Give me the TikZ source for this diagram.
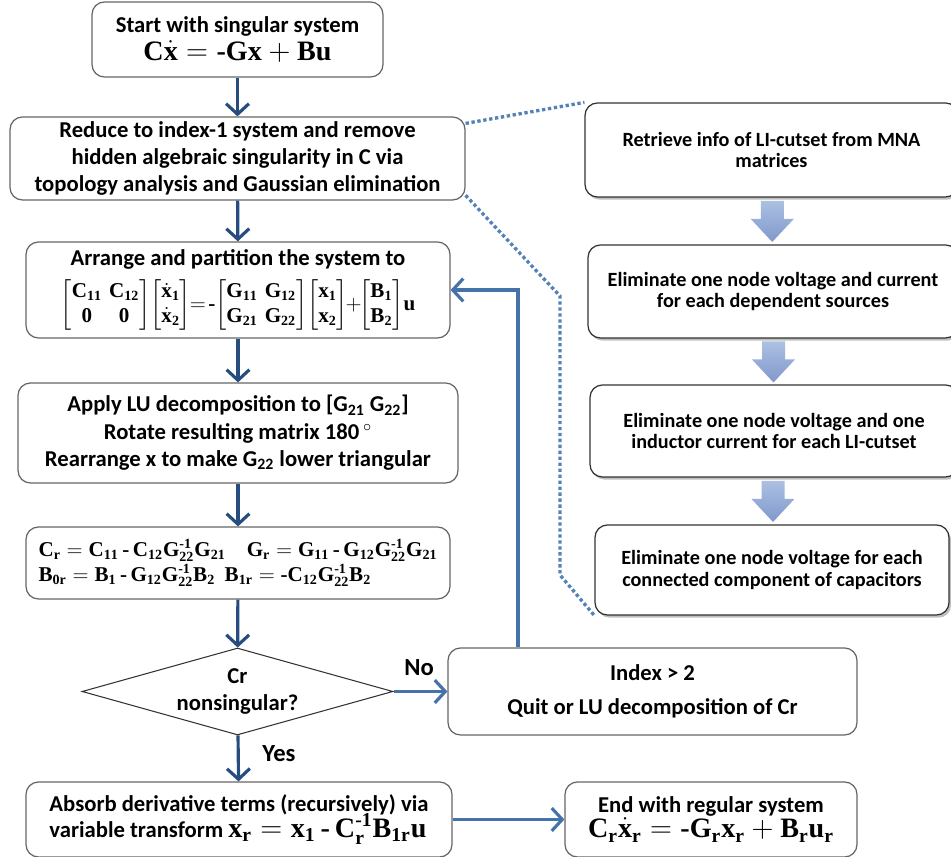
\documentclass[tikz,border=0pt]{standalone}
\usepackage{amsmath}
\usepackage{fontspec}
\setmainfont{Carlito}
\setmathrm{Liberation Serif}
\newfontfamily\tnr{Liberation Serif}
\usetikzlibrary{arrows.meta,shapes.geometric,shadows,calc}

\definecolor{navy}{RGB}{38,76,128}
\definecolor{steel}{RGB}{70,114,170}
\definecolor{dotblue}{RGB}{84,130,182}
\definecolor{blocktop}{RGB}{172,192,226}
\definecolor{blockbot}{RGB}{128,152,204}

% bold serif symbols for the formulas
\newcommand\mi{\text{\tnr\bfseries -}}
\newcommand\mn{\,\mi\,}
\newcommand\ms[2]{\mathbf{#1}_{\mathbf{#2}}}
\newcommand\inv{^{\mi\mathbf{1}}}

\begin{document}
\begin{tikzpicture}[
        x=0.02cm, y=-0.02cm,
        box/.style={draw=black!60, line width=0.7pt, rounded corners=7pt,
            fill=white, align=center, inner sep=2pt,
            font=\bfseries\fontsize{12.9}{15.6}\selectfont},
        side/.style={box, draw=black!80,
            font=\bfseries\fontsize{11.5}{12.5}\selectfont,
            drop shadow={shadow xshift=1.2pt, shadow yshift=-1.5pt, opacity=0.5}},
        decision/.style={draw=black!80, line width=0.6pt, diamond, shape aspect=3.6,
            inner sep=0pt, align=center,
            font=\bfseries\fontsize{12.9}{15.6}\selectfont},
        flow/.style={navy, line width=1.8pt,
            -{Straight Barb[length=6pt, width=13pt]}},
        sideflow/.style={flow, steel},
        zoomline/.style={dotblue, line width=1.9pt, dash pattern=on 1.9pt off 1.5pt},
        block/.style={top color=blocktop, bottom color=blockbot, draw=none},
        lbl/.style={font=\bfseries\fontsize{14}{16}\selectfont},
        eq/.style={font=\fontsize{12}{14.5}\selectfont},
    ]

    \useasboundingbox (0,0) rectangle (951,857);

    % zoomed steps on the right
    \node[side, minimum width=7.46cm, minimum height=1.88cm] (r1) at (771.5,150)
        {Retrieve info of LI-cutset from MNA\\matrices};
    \node[side, minimum width=7.40cm, minimum height=1.86cm] (r2) at (773,291.5)
        {Eliminate one node voltage and current\\for each dependent sources};
    \node[side, minimum width=7.36cm, minimum height=1.84cm] (r3) at (774,431)
        {Eliminate one node voltage and one\\inductor current for each LI-cutset};
    \node[side, minimum width=7.08cm, minimum height=1.80cm] (r4) at (772,570)
        {Eliminate one node voltage for each\\connected component of capacitors};

    \foreach \a/\b in {r1/r2, r2/r3, r3/r4}{
        \coordinate (m) at ($(\a.south)!0.5!(\b.north)$);
        \path[block, shift={(m)}] (-0.23cm,0.4cm) -- (0.23cm,0.4cm) -- (0.23cm,0.04cm)
            -- (0.43cm,0.04cm) -- (0cm,-0.42cm) -- (-0.43cm,0.04cm)
            -- (-0.23cm,0.04cm) -- cycle;
    }

    % main flow
    \node[box, minimum width=5.82cm, minimum height=1.5cm] (start) at (237.5,39.5)
        {Start with singular system\\
         {\fontsize{16}{18}\selectfont $\mathbf{C}\dot{\mathbf{x}} = \mi\mathbf{Gx} + \mathbf{Bu}$}};
    \node[box, minimum width=9.1cm, minimum height=1.66cm] (reduce) at (237.5,158.5)
        {Reduce to index-1 system and remove\\hidden algebraic singularity in C via\\topology analysis and Gaussian elimination};
    \node[box, minimum width=8.48cm, minimum height=1.92cm] (arrange) at (238,290)
        {Arrange and partition the system to\\[5pt]
         {\fontsize{12}{14}\selectfont\arraycolsep=2pt
         $\begin{bmatrix}\ms{C}{11} & \ms{C}{12}\\ \mathbf{0} & \mathbf{0}\end{bmatrix}\!
          \begin{bmatrix}\dot{\mathbf{x}}_{\mathbf{1}}\\ \dot{\mathbf{x}}_{\mathbf{2}}\end{bmatrix}
          \!\!=\!\mi\!\begin{bmatrix}\ms{G}{11} & \ms{G}{12}\\ \ms{G}{21} & \ms{G}{22}\end{bmatrix}\!
          \begin{bmatrix}\ms{x}{1}\\ \ms{x}{2}\end{bmatrix}\!\!+\!\!
          \begin{bmatrix}\ms{B}{1}\\ \ms{B}{2}\end{bmatrix}\!\mathbf{u}$}};
    \node[box, minimum width=8.8cm, minimum height=2.0cm] (apply) at (238,433)
        {Apply LU decomposition to [G\textsubscript{21} G\textsubscript{22}]\\
         Rotate resulting matrix 180\,$^\circ$\\
         Rearrange x to make G\textsubscript{22} lower triangular};
    \node[box, eq, align=left, minimum width=8.48cm, minimum height=1.44cm] (reduced) at (238,563)
        {$\ms{C}{r} = \ms{C}{11} \mn \ms{C}{12}\mathbf{G}\inv_{\mathbf{22}}\ms{G}{21}$\quad
         $\ms{G}{r} = \ms{G}{11} \mn \ms{G}{12}\mathbf{G}\inv_{\mathbf{22}}\ms{G}{21}$\\
         $\ms{B}{0r} = \ms{B}{1} \mn \ms{G}{12}\mathbf{G}\inv_{\mathbf{22}}\ms{B}{2}$\ \
         $\ms{B}{1r} = \mi\ms{C}{12}\mathbf{G}\inv_{\mathbf{22}}\ms{B}{2}$};
    \node[decision, minimum width=6.22cm, minimum height=1.74cm] (check) at (237.5,691.5)
        {Cr\\nonsingular?};
    \node[box, minimum width=8.18cm, minimum height=1.74cm] (index) at (652.5,691.5)
        {Index > 2\\[4pt]Quit or LU decomposition of Cr};
    \node[box, align=left, minimum width=8.52cm, minimum height=1.5cm] (absorb) at (239,819.5)
        {Absorb derivative terms (recursively) via\\[-2pt]
         variable transform {\fontsize{16}{18}\selectfont
         $\ms{x}{r} = \ms{x}{1} \mn \mathbf{C}\inv_{\mathbf{r}}\ms{B}{1r}\mathbf{u}$}};
    \node[box, minimum width=5.84cm, minimum height=1.5cm] (end) at (711,819.5)
        {End with regular system\\[-1pt]
         {\fontsize{16}{18}\selectfont
         $\ms{C}{r}\dot{\mathbf{x}}_{\mathbf{r}} = \mi\ms{G}{r}\ms{x}{r} + \ms{B}{r}\ms{u}{r}$}};

    \draw[flow] (start) -- (reduce);
    \draw[flow] (reduce) -- (arrange);
    \draw[flow] (arrange) -- (apply);
    \draw[flow] (apply) -- (reduced);
    \draw[flow] (reduced) -- (check);
    \draw[flow] (check) -- (absorb);
    \draw[sideflow] (check) -- (index);
    \draw[sideflow] (absorb) -- (end);

    \coordinate (back) at (518,290);
    \draw[sideflow] (index.north -| back) |- (arrange.east);

    \node[lbl] (no) at (419,668) {No};
    \node[lbl] (yes) at (279,754) {Yes};

    % callout to the detail steps
    \coordinate (z1) at (560,296);
    \coordinate (z2) at (560,575);
    \draw[zoomline] ([yshift=-4pt]reduce.north east) -- (r1.north west);
    \draw[zoomline] ([yshift=3pt]reduce.south east) -- (z1) -- (z2) -- (r4.south west);

\end{tikzpicture}
\end{document}
